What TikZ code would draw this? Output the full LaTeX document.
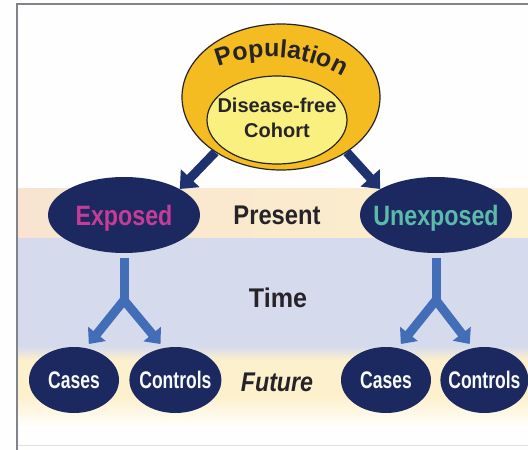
\documentclass[tikz,border=0pt]{standalone}
\usepackage{fontspec}
\setmainfont{Liberation Sans}
\usepackage{graphicx}
\usetikzlibrary{positioning}
\usetikzlibrary{shapes.geometric}
\usetikzlibrary{arrows.meta}
\usetikzlibrary{decorations.text}

\definecolor{navy}{RGB}{27,41,96}
\definecolor{navyarr}{RGB}{30,50,112}
\definecolor{forkblue}{RGB}{66,110,184}
\definecolor{gold}{RGB}{244,188,32}
\definecolor{paleyellow}{RGB}{250,240,128}
\definecolor{ink}{RGB}{38,36,40}
\definecolor{peach}{RGB}{248,228,208}
\definecolor{cream}{RGB}{253,240,204}
\definecolor{lavender}{RGB}{214,218,237}
\definecolor{expink}{RGB}{198,60,150}
\definecolor{unexteal}{RGB}{92,186,170}
\definecolor{framegray}{RGB}{130,132,140}

% text squeezed sideways, taking no width inside its node
\newcommand{\squeezed}[2]{\makebox[0pt]{\scalebox{#1}[1]{#2}}}

\begin{document}
\begin{tikzpicture}[x=1pt,y=-1pt,>=latex,
		blob/.style={ellipse,
				fill=navy,
				inner sep=0pt,
				text depth=0pt},
		bigblob/.style={blob,
				minimum width=152pt,
				minimum height=76pt,
				font=\fontsize{28}{30}\selectfont\bfseries},
		smallblob/.style={blob,
				minimum width=90pt,
				minimum height=66pt,
				text=white!86!lavender,
				font=\fontsize{24}{26}\selectfont\bfseries},
		bandtext/.style={text=ink, text depth=0pt,
				font=\fontsize{27}{29}\selectfont\bfseries},
		navyarrow/.style={-{Triangle[width=25pt,length=15pt]},
				line width=9pt, draw=navyarr},
		forkarrow/.style={{Triangle[width=22pt,length=13pt]}-{Triangle[width=22pt,length=13pt]},
				line width=9pt, draw=forkblue,
				shorten <=5pt, shorten >=5pt},
		forkstem/.style={line width=9pt, draw=forkblue, shorten <=5pt}]
	\useasboundingbox (0,0) rectangle (528,450);
	\fill[white!97!lavender] (0,0) rectangle (528,450);
	% bands: present, time, future
	\fill[left color=peach, right color=cream] (18,188) rectangle (528,238);
	\fill[lavender] (18,238) rectangle (528,352);
	\fill[top color=lavender, bottom color=cream] (18,346) rectangle (528,360);
	\fill[cream] (18,360) rectangle (528,396);
	\fill[top color=cream, bottom color=white] (18,396) rectangle (528,428);
	\draw[framegray, line width=1.6pt] (17,450) -- (17,4) -- (528,4);
	\draw[black!12] (18,445) -- (528,445);

	% population and cohort
	\node[ellipse, draw=ink, line width=1.2pt, fill=gold,
		minimum width=198pt, minimum height=146pt] (pop) at (281,97) {};
	\node[ellipse, draw=ink, line width=1.2pt, fill=paleyellow, inner sep=0pt,
		minimum width=140pt, minimum height=88pt, text=ink,
		font=\fontsize{20}{25}\selectfont\bfseries] (coh) at (277,120)
		{\makebox[0pt]{\begin{tabular}{@{}c@{}}Disease-free\\Cohort\end{tabular}}};
	\path[decorate, decoration={text along path, text align=center, text color=ink,
		text={|\fontsize{25}{25}\selectfont\bfseries|Population}}]
		(270,202) ++(-124:145) arc[start angle=-124, end angle=-47, radius=145];

	% present
	\node[bigblob, text=expink] (ex) at (124,215) {\squeezed{0.83}{Exposed}};
	\node[bigblob, text=unexteal] (unex) at (436,215) {\squeezed{0.83}{Unexposed}};
	\node[bandtext] (present) at (277,215) {\scalebox{0.88}[1]{Present}};
	\draw[navyarrow] (pop.220) -- (ex.25);
	\draw[navyarrow] (pop.320) -- (unex.155);

	% time
	\node[bandtext] (time) at (278,298) {\scalebox{0.93}[1]{Time}};

	% future
	\node[smallblob] (ca1) at (74,380) {\squeezed{0.73}{Cases}};
	\node[smallblob, minimum width=92pt, right=10pt of ca1] (co1) {\squeezed{0.73}{Controls}};
	\node[smallblob] (ca2) at (386,380) {\squeezed{0.73}{Cases}};
	\node[smallblob, minimum width=88pt, right=9pt of ca2] (co2) {\squeezed{0.73}{Controls}};
	\node[bandtext, font=\fontsize{27}{29}\selectfont\bfseries\itshape] (future) at (277,382)
		{\scalebox{0.86}[1]{Future}};

	% forks down to the outcomes
	\coordinate[below=47pt of ex] (lfork);
	\coordinate[below=47pt of unex] (rfork);
	\draw[forkstem] (ex) -- (lfork);
	\draw[forkarrow] (ca1.70) -- (lfork) -- (co1.110);
	\draw[forkstem] (unex) -- (rfork);
	\draw[forkarrow] (ca2.70) -- (rfork) -- (co2.110);
\end{tikzpicture}
\end{document}
